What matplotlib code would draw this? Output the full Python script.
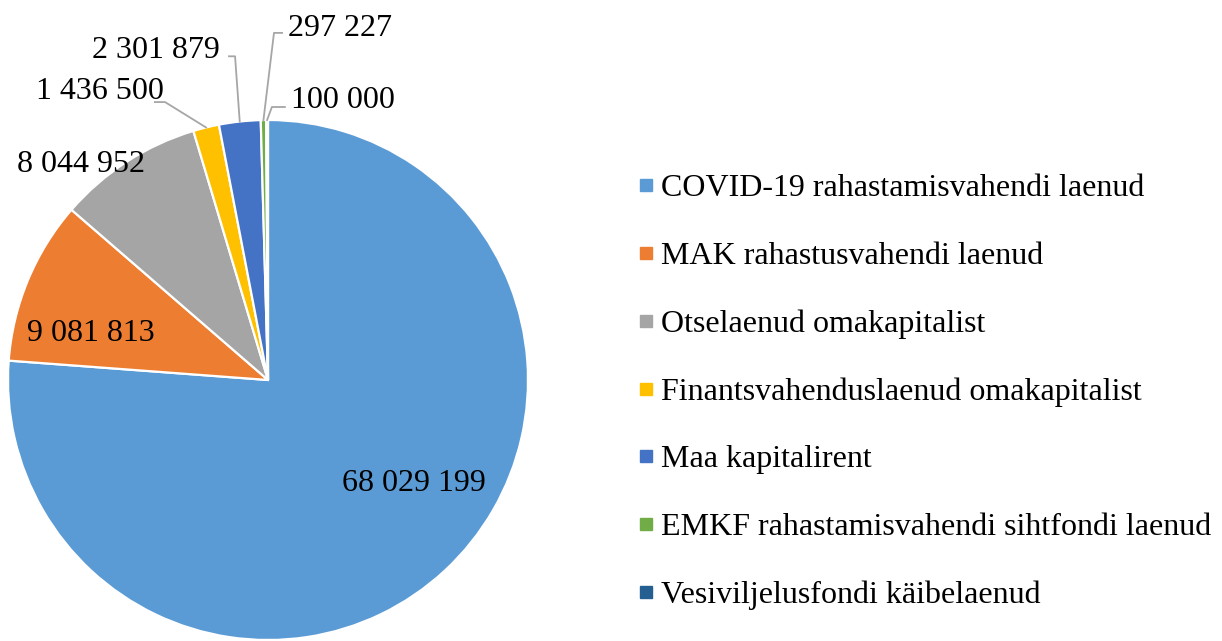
import numpy as np
import matplotlib.pyplot as plt
from matplotlib.lines import Line2D

categories = [
    "COVID-19 rahastamisvahendi laenud",
    "MAK rahastusvahendi laenud",
    "Otselaenud omakapitalist",
    "Finantsvahenduslaenud omakapitalist",
    "Maa kapitalirent",
    "EMKF rahastamisvahendi sihtfondi laenud",
    "Vesiviljelusfondi käibelaenud",
]
values = [68029199, 9081813, 8044952, 1436500, 2301879, 297227, 100000]
colors = ["#5B9BD5", "#ED7D31", "#A5A5A5", "#FFC000", "#4472C4", "#70AD47", "#255E91"]


def fmt(v):
    return f"{v:,}".replace(",", " ")


plt.rcParams["font.family"] = ["Liberation Serif", "DejaVu Serif"]

fig = plt.figure(figsize=(12.22, 6.41), dpi=100)
# pie axes: centre at (268, 381) px, radius 260 px
ax = fig.add_axes([8 / 1222, 1 / 641, 520 / 1222, 520 / 641])
wedges, _ = ax.pie(values, colors=colors, startangle=90, counterclock=False,
                   wedgeprops=dict(edgecolor="white", linewidth=1.6))
ax.set_xlim(-1, 1)
ax.set_ylim(-1, 1)
ax.set_aspect("equal")
for w in wedges:
    w.set_clip_on(False)

fs = 23
# labels inside the slices (x centre, baseline)
inside = {0: (0.562, -0.426), 1: (-0.683, 0.15), 2: (-0.721, 0.80)}
for i, (x, y) in inside.items():
    ax.text(x, y, fmt(values[i]), ha="center", va="baseline", fontsize=fs)

# labels with leader lines: (text pos, ha, elbow point, line end)
outside = {
    3: ((-0.40, 1.081), "right", (-0.396, 1.069), (-0.435, 1.069)),
    4: ((-0.185, 1.238), "right", None, None),
    5: ((0.077, 1.323), "left", (0.023, 1.335), (0.054, 1.335)),
    6: ((0.088, 1.046), "left", (0.015, 1.05), (0.065, 1.05)),
}
for i, (pos, ha, elbow, end) in outside.items():
    w = wedges[i]
    mid = np.deg2rad((w.theta1 + w.theta2) / 2)
    ax0, ay0 = np.cos(mid), np.sin(mid)
    if i == 4:
        elbow = (ax0 - 0.018, 1.245)
        end = (-0.15, 1.245)
    ax.plot([ax0, elbow[0], end[0]], [ay0, elbow[1], end[1]],
            color="#A6A6A6", lw=1.3, clip_on=False)
    ax.text(pos[0], pos[1], fmt(values[i]), ha=ha, va="baseline", fontsize=fs)

handles = [Line2D([], [], marker="s", linestyle="none", markersize=8,
                  markerfacecolor=c, markeredgecolor=c) for c in colors]
fig.legend(handles, categories, loc="center left", bbox_to_anchor=(640 / 1222, 1 - 392 / 641),
           frameon=False, fontsize=23, labelspacing=1.2, handlelength=0.35,
           handletextpad=0.3, borderaxespad=0, borderpad=0)

fig.savefig("out.png", dpi=100)
